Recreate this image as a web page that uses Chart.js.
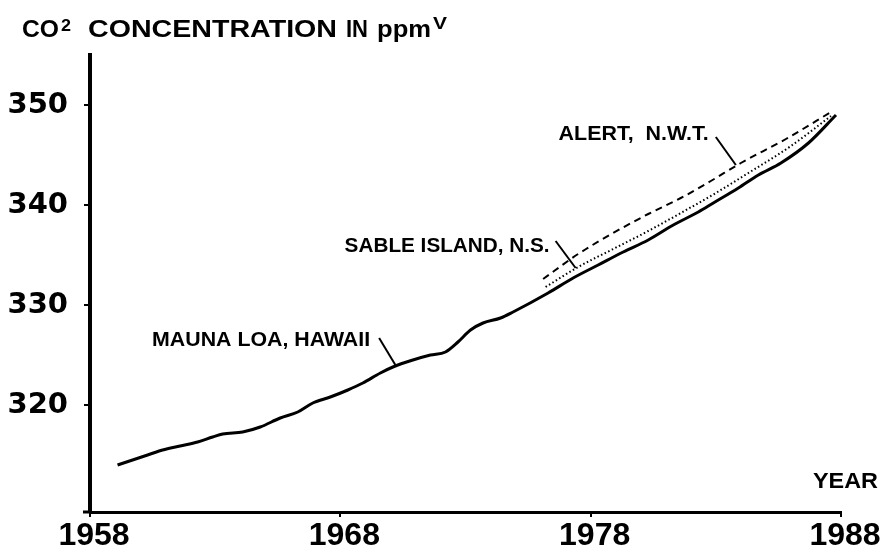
<!DOCTYPE html>
<html>
<head>
<meta charset="utf-8">
<script src="https://cdn.jsdelivr.net/npm/chart.js@4.4.0/dist/chart.umd.min.js"></script>
<style>
  html, body { margin: 0; padding: 0; background: #fff; }
</style>
</head>
<body>
<canvas id="chart" width="887" height="549"></canvas>
<script>
// Mauna Loa, Hawaii (solid line)
const maunaYears = [1959.1, 1960.3, 1960.9, 1961.6, 1962.3, 1962.9, 1963.3, 1964.1, 1964.8, 1965.6,
  1966.3, 1966.9, 1967.6, 1968.3, 1968.9, 1969.6, 1970.1, 1970.9, 1971.6, 1972.2, 1972.7,
  1973.2, 1973.7, 1974.4, 1974.9, 1976.3, 1977.3, 1978.3, 1979.3, 1980.3, 1981.3, 1982.3,
  1982.9, 1983.9, 1984.7, 1985.6, 1986.7, 1987.8];
const maunaPpm = [314.0, 315.0, 315.5, 315.9, 316.3, 316.8, 317.1, 317.3, 317.8, 318.7,
  319.3, 320.2, 320.8, 321.5, 322.2, 323.2, 323.8, 324.5, 325.0, 325.3, 326.3,
  327.5, 328.2, 328.7, 329.3, 331.2, 332.7, 334.0, 335.3, 336.5, 338.0, 339.3,
  340.2, 341.7, 343.0, 344.2, 346.2, 349.0];

// Alert, N.W.T. (dashed line)
const alertYears = [1976.1, 1977.5, 1978.9, 1980.3, 1981.6, 1982.8, 1984.0, 1985.8, 1987.6];
const alertPpm = [332.6, 335.1, 337.2, 339.1, 340.7, 342.4, 344.2, 346.6, 349.3];

// Sable Island, N.S. (dotted line)
const sableYears = [1976.2, 1977.5, 1978.9, 1980.3, 1981.6, 1983.0, 1984.3, 1986.0, 1987.6];
const sablePpm = [331.8, 333.8, 335.6, 337.4, 339.2, 341.2, 343.2, 345.9, 348.9];

const yearTicks = [1958, 1968, 1978, 1988];
const ppmTicks = [320, 330, 340, 350];

// étiquettes des stations (texte, position en année/ppm, largeur, trait de rappel)
const stationLabels = [
  { text: 'MAUNA LOA, HAWAII', align: 'left', at: [1960.48, 326.5], w: 218, from: [1969.55, 326.7], to: [1970.2, 324.0] },
  { text: 'SABLE ISLAND, N.S.', align: 'right', at: [1976.36, 335.9], w: 205, from: [1976.6, 336.4], to: [1977.4, 333.7] },
  { text: 'ALERT,  N.W.T.', align: 'left', at: [1976.72, 347.1], w: 150, from: [1983.0, 346.8], to: [1983.8, 344.0] }
];

function toPoints(xs, ys) {
  return xs.map((x, i) => ({ x: x, y: ys[i] }));
}

// texte ajusté à une largeur donnée (x = bord gauche)
function fitText(ctx, str, x, y, w) {
  const m = ctx.measureText(str).width;
  ctx.save();
  ctx.translate(x, y);
  ctx.scale(w / m, 1);
  ctx.textAlign = 'left';
  ctx.fillText(str, 0, 0);
  ctx.restore();
}

const decorations = {
  id: 'decorations',
  afterDraw(chart) {
    const ctx = chart.ctx;
    const xs = chart.scales.x, ys = chart.scales.y;
    ctx.save();
    ctx.fillStyle = '#000';
    ctx.strokeStyle = '#000';
    ctx.textBaseline = 'alphabetic';

    // titre de l'axe Y
    ctx.font = 'bold 23px "Liberation Sans"';
    fitText(ctx, 'CO', 22, 37, 37);
    fitText(ctx, 'CONCENTRATION', 88, 37, 249);
    fitText(ctx, 'IN', 346, 37, 22);
    fitText(ctx, 'ppm', 377, 37, 54);
    ctx.font = 'bold 16px "Liberation Sans"';
    fitText(ctx, '2', 61, 31, 10);
    fitText(ctx, 'V', 433, 29, 14);

    // YEAR
    ctx.font = 'bold 22px "Liberation Sans"';
    fitText(ctx, 'YEAR', 813, 488, 65);

    // étiquettes des courbes
    ctx.font = 'bold 21px "Liberation Sans"';
    ctx.textBaseline = 'middle';
    ctx.lineWidth = 2;
    stationLabels.forEach(l => {
      let px = xs.getPixelForValue(l.at[0]);
      if (l.align === 'right') px -= l.w;
      fitText(ctx, l.text, px, ys.getPixelForValue(l.at[1]), l.w);
      ctx.beginPath();
      ctx.moveTo(xs.getPixelForValue(l.from[0]), ys.getPixelForValue(l.from[1]));
      ctx.lineTo(xs.getPixelForValue(l.to[0]), ys.getPixelForValue(l.to[1]));
      ctx.stroke();
    });

    // petit prolongement de l'axe X au coin
    ctx.lineWidth = 3;
    ctx.beginPath();
    ctx.moveTo(chart.chartArea.left - 7, chart.chartArea.bottom);
    ctx.lineTo(chart.chartArea.left, chart.chartArea.bottom);
    ctx.stroke();
    ctx.restore();
  }
};

const ctx = document.getElementById('chart').getContext('2d');
new Chart(ctx, {
  type: 'line',
  data: {
    datasets: [
      {
        label: 'Mauna Loa, Hawaii',
        data: toPoints(maunaYears, maunaPpm),
        borderColor: '#000',
        borderWidth: 3,
        pointRadius: 0,
        cubicInterpolationMode: 'monotone'
      },
      {
        label: 'Alert, N.W.T.',
        data: toPoints(alertYears, alertPpm),
        borderColor: '#000',
        borderWidth: 2,
        borderDash: [7, 5],
        pointRadius: 0,
        cubicInterpolationMode: 'monotone'
      },
      {
        label: 'Sable Island, N.S.',
        data: toPoints(sableYears, sablePpm),
        borderColor: '#000',
        borderWidth: 2,
        borderDash: [1.5, 2.5],
        pointRadius: 0,
        cubicInterpolationMode: 'monotone'
      }
    ]
  },
  options: {
    responsive: false,
    animation: false,
    layout: { padding: { top: 55, right: 46, left: 0, bottom: 0 } },
    plugins: { legend: { display: false }, tooltip: { enabled: false } },
    scales: {
      x: {
        type: 'linear',
        min: 1958,
        max: 1988,
        afterBuildTicks: s => { s.ticks = yearTicks.map(v => ({ value: v })); },
        afterFit: s => { s.height = 37; },
        grid: { drawOnChartArea: false, drawTicks: true, tickLength: 5, color: '#000', lineWidth: 2 },
        border: { display: true, color: '#000', width: 3 },
        ticks: {
          color: '#000',
          font: { family: 'Liberation Sans', weight: 'bold', size: 32 },
          padding: 0,
          maxRotation: 0,
          autoSkip: false,
          labelOffset: 4,
          callback: v => String(v)
        }
      },
      y: {
        min: 309.3,
        max: 355,
        afterBuildTicks: s => { s.ticks = ppmTicks.map(v => ({ value: v })); },
        afterFit: s => { s.width = 90; },
        grid: { drawOnChartArea: false, drawTicks: true, tickLength: 6, color: '#000', lineWidth: 2 },
        border: { display: true, color: '#000', width: 4 },
        ticks: {
          color: '#000',
          font: { family: 'DejaVu Sans', weight: 'bold', size: 29 },
          padding: 16,
          autoSkip: false,
          callback: v => String(v)
        }
      }
    }
  },
  plugins: [decorations]
});
</script>
</body>
</html>
